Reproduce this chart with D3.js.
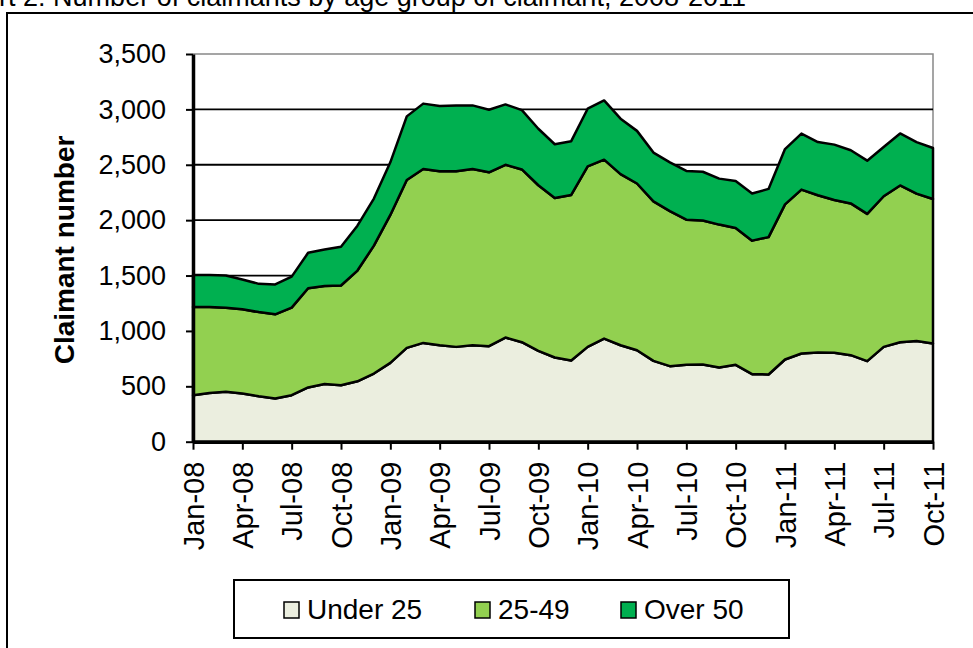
<!DOCTYPE html>
<html>
  <head>
    <style>
    body { margin: 0; background: #fff; }
    svg { font-family: Arial, "Liberation Sans", sans-serif; }
    .tick text { fill: #000; }
    </style>
  </head>
  <body>

    <svg width="973" height="648"></svg>

    <script src="https://cdnjs.cloudflare.com/ajax/libs/d3/7.8.5/d3.min.js"></script>
    <script>

      const months = [
        'Jan-08','Feb-08','Mar-08','Apr-08','May-08','Jun-08','Jul-08','Aug-08','Sep-08','Oct-08','Nov-08','Dec-08',
        'Jan-09','Feb-09','Mar-09','Apr-09','May-09','Jun-09','Jul-09','Aug-09','Sep-09','Oct-09','Nov-09','Dec-09',
        'Jan-10','Feb-10','Mar-10','Apr-10','May-10','Jun-10','Jul-10','Aug-10','Sep-10','Oct-10','Nov-10','Dec-10',
        'Jan-11','Feb-11','Mar-11','Apr-11','May-11','Jun-11','Jul-11','Aug-11','Sep-11','Oct-11'
      ]
      const tickLabels = ['Jan-08','Apr-08','Jul-08','Oct-08','Jan-09','Apr-09','Jul-09','Oct-09',
        'Jan-10','Apr-10','Jul-10','Oct-10','Jan-11','Apr-11','Jul-11','Oct-11']

      const under25 = [420,440,450,435,410,390,420,490,520,510,545,615,
        712,847,892,871,856,871,862,940,898,820,760,733,
        856,931,871,826,730,682,694,697,670,694,610,607,
        742,796,805,802,781,727,856,898,910,886]
      const age25to49 = [795,775,760,760,760,760,790,895,885,900,1000,1155,
        1335,1515,1570,1570,1585,1590,1570,1560,1560,1495,1440,1495,
        1630,1615,1545,1505,1440,1400,1310,1300,1290,1235,1205,1240,
        1400,1480,1420,1380,1370,1330,1360,1415,1330,1305]
      const over50 = [290,290,290,270,255,270,280,320,330,350,405,425,
        475,575,590,590,595,575,565,545,535,510,485,485,
        520,535,500,475,440,440,440,440,415,425,425,435,
        500,505,480,500,480,480,445,470,465,460]

      const seriesNames = ['Under 25', '25-49', 'Over 50']
      const seriesColors = ['#ebeedf', '#92d050', '#00b050']
      const yTicks = [0, 500, 1000, 1500, 2000, 2500, 3000, 3500]

      const svg = d3.select('svg')
      const plot = {left: 193, right: 933, top: 54, bottom: 441.7}

      // outer frame
      svg.append('path')
        .attr('d', 'M7,660 V13 H980')
        .attr('fill', 'none').attr('stroke', '#000').attr('stroke-width', 2)

      svg.append('text')
        .attr('x', 746).attr('y', 6)
        .attr('text-anchor', 'end')
        .attr('font-size', 27)
        .text('Chart 2: Number of claimants by age group of claimant, 2008-2011')

      const x = d3.scalePoint().domain(months).range([plot.left, plot.right])
      const y = d3.scaleLinear().domain([0, 3500]).range([plot.bottom, plot.top])

      const rows = months.map((m, i) => ({
        month: m, 'Under 25': under25[i], '25-49': age25to49[i], 'Over 50': over50[i]
      }))
      const stacked = d3.stack().keys(seriesNames)(rows)

      const area = d3.area()
        .x(d => x(d.data.month))
        .y0(d => y(d[0]))
        .y1(d => y(d[1]))

      // plot border top/right (grey)
      svg.append('path')
        .attr('d', `M${plot.left},${y(3500)} H${plot.right} V${plot.bottom}`)
        .attr('fill', 'none').attr('stroke', '#888').attr('stroke-width', 1.5)

      // gridlines
      svg.append('g')
        .selectAll('line')
        .data(yTicks.filter(v => v > 0 && v < 3500))
        .enter().append('line')
          .attr('x1', plot.left).attr('x2', plot.right)
          .attr('y1', d => y(d)).attr('y2', d => y(d))
          .attr('stroke', '#000').attr('stroke-width', 1.8)

      svg.append('g')
        .selectAll('path')
        .data(stacked)
        .enter().append('path')
          .attr('d', area)
          .attr('fill', (d, i) => seriesColors[i])
          .attr('stroke', '#000')
          .attr('stroke-width', 2.5)
          .attr('stroke-linejoin', 'round')

      const yAxis = svg.append('g')
        .attr('transform', `translate(${plot.left},0)`)
        .call(d3.axisLeft(y).tickValues(yTicks).tickFormat(d3.format(',')).tickSize(7).tickSizeOuter(0).tickPadding(20))
      yAxis.select('.domain').attr('stroke-width', 3.5)
      yAxis.selectAll('.tick line').attr('stroke-width', 2)
      yAxis.selectAll('.tick text').attr('font-size', 27).attr('font-family', 'Arial, "Liberation Sans", sans-serif')

      const xAxis = svg.append('g')
        .attr('transform', `translate(0,${plot.bottom})`)
        .call(d3.axisBottom(x).tickValues(tickLabels).tickSize(8).tickSizeOuter(0))
      xAxis.select('.domain').attr('stroke-width', 3.5)
      xAxis.selectAll('.tick line').attr('stroke-width', 2)
      xAxis.selectAll('.tick text')
        .attr('font-size', 29)
        .attr('font-family', 'Arial, "Liberation Sans", sans-serif')
        .attr('text-anchor', 'end')
        .attr('dy', '0.35em')
        .attr('transform', 'translate(0,20) rotate(-90)')
        .attr('x', 0).attr('y', 0)

      svg.append('text')
        .attr('transform', 'translate(74,250) rotate(-90)')
        .attr('text-anchor', 'middle')
        .attr('font-size', 28)
        .attr('font-weight', 'bold')
        .text('Claimant number')

      // legend
      const legend = svg.append('g')
      legend.append('rect')
        .attr('x', 234).attr('y', 580).attr('width', 555).attr('height', 58)
        .attr('fill', '#fff').attr('stroke', '#000').attr('stroke-width', 2)
      const legendX = [284, 475, 621]
      const items = legend.selectAll('.item')
        .data(seriesNames)
        .enter().append('g')
          .attr('class', 'item')
          .attr('transform', (d, i) => `translate(${legendX[i]},602)`)
      items.append('rect')
        .attr('width', 15).attr('height', 16)
        .attr('fill', (d, i) => seriesColors[i])
        .attr('stroke', '#000').attr('stroke-width', 1.5)
      items.append('text')
        .attr('x', 23).attr('y', 17)
        .attr('font-size', 28)
        .text(d => d)

    </script>
  </body>
</html>
